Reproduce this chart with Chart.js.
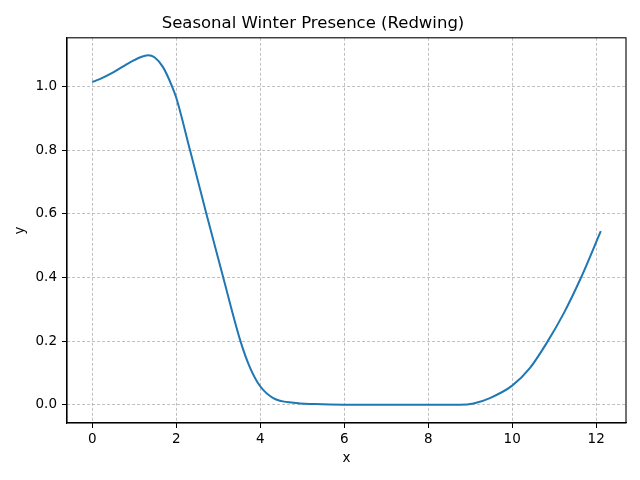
<!DOCTYPE html>
<html>
<head>
<meta charset="utf-8">
<script src="https://cdn.jsdelivr.net/npm/chart.js@4"></script>
<style>
html,body{margin:0;padding:0;background:#fff;}
#wrap{width:640px;height:480px;}
</style>
</head>
<body>
<div id="wrap"><canvas id="c" width="640" height="480"></canvas></div>
<script>
const xValues = [0, 0.18, 0.5, 0.9, 1.15, 1.33, 1.49, 1.69, 1.905, 2.0, 2.33, 2.72, 3.12, 3.53, 3.76, 4.0, 4.31, 4.79, 5.3, 6, 7, 8, 8.76, 9.08, 9.47, 10.0, 10.42, 10.83, 11.23, 11.64, 12.11];
const yValues = [1.015, 1.024, 1.045, 1.077, 1.093, 1.099, 1.092, 1.061, 1.0, 0.966, 0.80, 0.60, 0.40, 0.20, 0.116, 0.058, 0.021, 0.006, 0.002, 0.0, 0.0, 0.0, 0.0, 0.004, 0.021, 0.060, 0.115, 0.196, 0.288, 0.40, 0.546];
const xTicks = [0, 2, 4, 6, 8, 10, 12];
const yTicks = [0.0, 0.2, 0.4, 0.6, 0.8, 1.0];
const titleText = 'Seasonal Winter Presence (Redwing)';

const FONT = 'DejaVu Sans';
const points = xValues.map((x, i) => ({x: x, y: yValues[i]}));

const frame = {
  id: 'frame',
  afterDatasetsDraw(chart) {
    const {ctx, chartArea: a} = chart;
    ctx.save();
    ctx.strokeStyle = '#000';
    ctx.lineWidth = 1.1;
    ctx.strokeRect(a.left, a.top, a.right - a.left, a.bottom - a.top);
    ctx.restore();
  }
};

new Chart(document.getElementById('c'), {
  type: 'line',
  data: {
    datasets: [{
      data: points,
      borderColor: '#1f77b4',
      borderWidth: 2,
      pointRadius: 0,
      cubicInterpolationMode: 'monotone',
      fill: false
    }]
  },
  options: {
    responsive: false,
    animation: false,
    devicePixelRatio: 1,
    layout: {padding: {left: 0, right: 14, top: 0, bottom: 0}},
    plugins: {
      legend: {display: false},
      tooltip: {enabled: false},
      title: {
        display: true,
        text: titleText,
        color: '#000',
        font: {family: FONT, size: 16.5, weight: 'normal'},
        padding: {top: 14, bottom: 4}
      }
    },
    scales: {
      x: {
        type: 'linear',
        min: -0.6,
        max: 12.71,
        afterBuildTicks: s => { s.ticks = xTicks.map(v => ({value: v})); },
        afterFit: s => { s.height = 57; },
        ticks: {
          color: '#000',
          font: {family: FONT, size: 13.5},
          padding: 3,
          maxRotation: 0,
          callback: v => String(v)
        },
        grid: {
          color: '#b0b0b0',
          lineWidth: 0.8,
          tickColor: '#000',
          tickLength: 5,
          tickWidth: 1
        },
        border: {display: true, color: '#000', width: 1.1, dash: [3, 2]},
        title: {
          display: true,
          text: 'x',
          color: '#000',
          font: {family: FONT, size: 13.5},
          padding: {top: 2, bottom: 13}
        }
      },
      y: {
        type: 'linear',
        min: -0.0575,
        max: 1.154,
        afterBuildTicks: s => { s.ticks = yTicks.map(v => ({value: v})); },
        afterFit: s => { s.width = 67; },
        ticks: {
          color: '#000',
          font: {family: FONT, size: 13.5},
          padding: 5,
          callback: v => v.toFixed(1)
        },
        grid: {
          color: '#b0b0b0',
          lineWidth: 0.8,
          tickColor: '#000',
          tickLength: 5,
          tickWidth: 1
        },
        border: {display: true, color: '#000', width: 1.1, dash: [3, 2]},
        title: {
          display: true,
          text: 'y',
          color: '#000',
          font: {family: FONT, size: 13.5},
          padding: {top: 12, bottom: 0}
        }
      }
    }
  },
  plugins: [frame]
});
</script>
</body>
</html>
